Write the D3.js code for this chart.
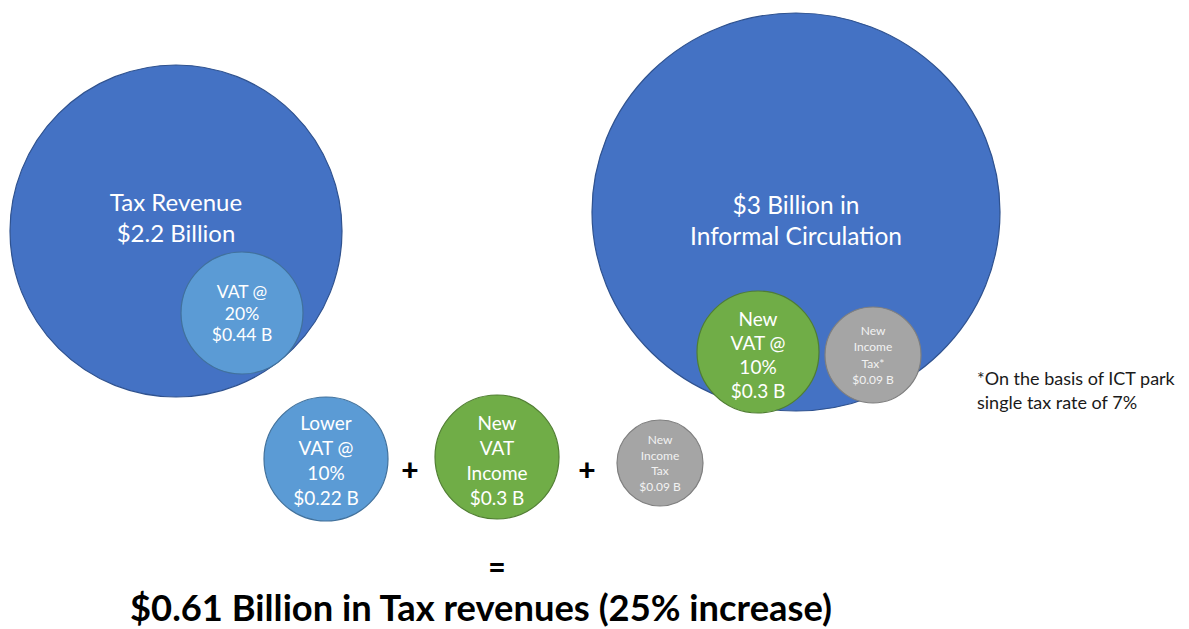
<!DOCTYPE html>
<html>
<head>
<meta charset="utf-8">
<script src="https://cdn.jsdelivr.net/npm/d3@7"></script>
<style>
  html, body { margin: 0; padding: 0; background: #fff; }
  svg { display: block; }
  text { font-family: Lato, "Open Sans", sans-serif; }
</style>
</head>
<body>
<div id="chart"></div>
<script>
// ---------------- data ----------------
const circleNames  = ["Tax Revenue", "Informal Circulation", "VAT @ 20%", "New VAT @ 10%",
                      "New Income Tax*", "Lower VAT @ 10%", "New VAT Income", "New Income Tax"];
const circleValues = [2.2, 3, 0.44, 0.3, 0.09, 0.22, 0.3, 0.09];   // $ billion
const circleKinds  = ["base", "base", "vat", "newvat", "income", "vat", "newvat", "income"];
const circleLabels = [
  ["Tax Revenue", "$2.2 Billion"],
  ["$3 Billion in", "Informal Circulation"],
  ["VAT @", "20%", "$0.44 B"],
  ["New", "VAT @", "10%", "$0.3 B"],
  ["New", "Income", "Tax*", "$0.09 B"],
  ["Lower", "VAT @", "10%", "$0.22 B"],
  ["New", "VAT", "Income", "$0.3 B"],
  ["New", "Income", "Tax", "$0.09 B"]
];
const operators   = ["+", "+", "="];
const footnote    = ["*On the basis of ICT park", "single tax rate of 7%"];
const resultTotal = 0.61;
const resultLabel = "$0.61 Billion in Tax revenues (25% increase)";

// ---------------- layout (positions / styles) ----------------
const W = 1189, H = 629;
const layout = [
  {cx: 176, cy: 231, rx: 166, ry: 166, fs: 24, lh: 31, dy: -14},
  {cx: 796, cy: 212, rx: 204, ry: 199, fs: 24.5, lh: 31, dy: 8},
  {cx: 242, cy: 313, rx: 61,  ry: 61,  fs: 17.5, lh: 21.5, dy: 0},
  {cx: 758, cy: 352, rx: 61,  ry: 61,  fs: 19, lh: 24, dy: 2},
  {cx: 873, cy: 355, rx: 48,  ry: 48,  fs: 12, lh: 16.5, dy: 0},
  {cx: 326, cy: 459, rx: 62,  ry: 62,  fs: 19, lh: 25, dy: 1},
  {cx: 497, cy: 457, rx: 62,  ry: 62,  fs: 19, lh: 25, dy: 3},
  {cx: 660, cy: 463, rx: 43,  ry: 43,  fs: 12, lh: 15.5, dy: 0}
];
const opPos = [{x: 410, y: 469, fs: 30}, {x: 587, y: 469, fs: 30}, {x: 497, y: 566, fs: 30}];

const fillScale = d3.scaleOrdinal()
  .domain(["base", "vat", "newvat", "income"])
  .range(["#4472C4", "#5B9BD5", "#70AD47", "#A5A5A5"]);
const strokeScale = d3.scaleOrdinal()
  .domain(["base", "vat", "newvat", "income"])
  .range(["#2F528F", "#41719C", "#507E32", "#7F7F7F"]);
const textScale = d3.scaleOrdinal()
  .domain(["base", "vat", "newvat", "income"])
  .range(["#ffffff", "#ffffff", "#ffffff", "#f2f2f2"]);

const data = circleNames.map((name, i) => ({
  name, value: circleValues[i], kind: circleKinds[i], lines: circleLabels[i], ...layout[i]
}));

// ---------------- draw ----------------
const svg = d3.select("#chart").append("svg")
  .attr("width", W).attr("height", H);

svg.append("rect").attr("width", W).attr("height", H).attr("fill", "#fff");

const g = svg.selectAll("g.bubble").data(data).join("g").attr("class", "bubble");

g.append("ellipse")
  .attr("cx", d => d.cx).attr("cy", d => d.cy).attr("rx", d => d.rx).attr("ry", d => d.ry)
  .attr("fill", d => fillScale(d.kind))
  .attr("stroke", d => strokeScale(d.kind))
  .attr("stroke-width", 1.2);

g.append("text")
  .attr("text-anchor", "middle")
  .attr("fill", d => textScale(d.kind))
  .attr("font-size", d => d.fs)
  .each(function(d) {
    const n = d.lines.length;
    d3.select(this).selectAll("tspan").data(d.lines).join("tspan")
      .attr("x", d.cx)
      .attr("y", (l, j) => d.cy + d.dy + (j - (n - 1) / 2) * d.lh)
      .attr("dominant-baseline", "central")
      .text(l => l);
  });

svg.selectAll("text.op").data(operators).join("text")
  .attr("class", "op")
  .attr("x", (d, i) => opPos[i].x).attr("y", (d, i) => opPos[i].y)
  .attr("text-anchor", "middle").attr("dominant-baseline", "central")
  .attr("font-size", (d, i) => opPos[i].fs).attr("font-weight", 900)
  .attr("fill", "#000")
  .text(d => d);

svg.append("text")
  .attr("x", 977).attr("font-size", 18).attr("fill", "#1a1a1a")
  .selectAll("tspan").data(footnote).join("tspan")
  .attr("x", 977).attr("y", (d, i) => 378 + i * 24)
  .attr("dominant-baseline", "central")
  .text(d => d);

svg.append("text")
  .attr("x", 481).attr("y", 607)
  .attr("text-anchor", "middle").attr("dominant-baseline", "central")
  .attr("font-size", 36).attr("font-weight", 700).attr("fill", "#000")
  .attr("textLength", 702).attr("lengthAdjust", "spacingAndGlyphs")
  .text(resultLabel);
</script>
</body>
</html>
